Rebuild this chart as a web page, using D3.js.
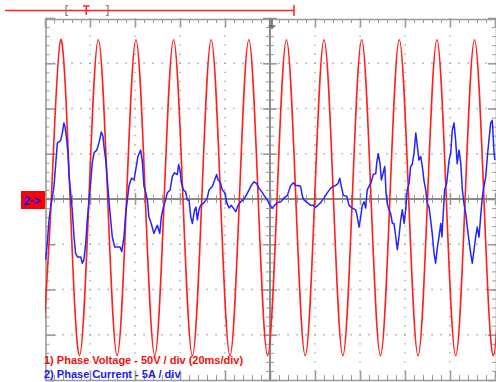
<!DOCTYPE html>
<html><head><meta charset="utf-8">
<script src="https://cdn.jsdelivr.net/npm/d3@7"></script>
<style>html,body{margin:0;padding:0;background:#fff;overflow:hidden}</style>
</head><body>
<svg id="c" width="496" height="382"></svg>
<script>
// ---- data (time in ms, voltage in V, current in A) ----
const voltT = [-1.38,
  2.80, 6.98, 11.16, 15.34,
  19.52, 23.70, 27.88, 32.06,
  36.24, 40.42, 44.60, 48.78,
  52.96, 57.14, 61.32, 65.50,
  69.68, 73.86, 78.04, 82.22,
  86.40, 90.58, 94.76, 98.94,
  103.12, 107.30, 111.48, 115.66,
  119.84, 124.02, 128.20, 132.38,
  136.56, 140.74, 144.92, 149.10,
  153.28, 157.46, 161.64, 165.82,
  170.00, 174.18, 178.36, 182.54,
  186.72, 190.90, 195.08, 199.26,
  203.44];
const voltV = [-173,
  0, 176, 0, -173,
  0, 176, 0, -173,
  0, 176, 0, -173,
  0, 176, 0, -173,
  0, 176, 0, -173,
  0, 176, 0, -173,
  0, 176, 0, -173,
  0, 176, 0, -173,
  0, 176, 0, -173,
  0, 176, 0, -173,
  0, 176, 0, -173,
  0, 176, 0, -173,
  0];
const curT = [0.3,1.0,1.8,2.5,3.2,4.0,4.8,5.5,6.2,7.0,7.7,8.4,8.9,9.5,10.2,10.7,11.4,12.1,12.9,13.6,14.4,15.9,16.6,17.3,18.1,18.8,19.6,20.3,21.0,21.8,23.0,24.0,25.0,25.8,26.2,27.0,27.7,28.4,29.2,29.9,31.0,32.1,33.3,34.1,35.1,35.9,36.6,37.3,38.4,39.6,40.3,41.3,42.5,43.2,44.0,44.8,45.5,46.2,47.2,48.4,49.9,51.0,51.7,52.6,53.6,54.4,55.6,56.6,57.6,58.8,59.4,60.0,60.6,61.5,62.5,63.2,64.0,64.8,65.5,66.5,67.1,67.7,68.4,69.2,70.7,72.1,72.9,74.4,75.4,76.3,76.9,77.8,78.8,79.9,80.8,81.8,82.8,83.7,84.8,85.8,87.0,88.1,89.2,90.7,91.7,92.9,94.1,95.1,96.6,97.6,98.8,100.0,101.0,102.1,103.2,104.8,106.2,107.7,109.2,110.4,111.4,112.4,113.6,114.4,115.1,116.6,118.1,119.2,120.3,121.3,122.5,124.0,125.5,127.0,128.1,129.2,130.2,131.0,131.7,132.6,134.1,135.1,136.6,138.1,138.8,139.6,140.3,141.0,141.8,142.5,143.2,144.0,145.0,145.9,147.0,147.4,148.1,148.9,149.5,150.2,151.0,151.6,152.1,152.9,153.6,154.4,155.1,155.9,156.6,157.3,158.1,158.8,159.6,160.3,161.0,161.8,162.5,163.2,164.0,164.8,165.5,166.2,167.0,167.7,168.4,169.2,169.9,170.7,171.4,172.1,172.9,173.6,174.4,175.1,175.9,176.4,177.0,177.6,178.5,179.6,180.3,181.0,181.8,182.5,183.2,184.0,184.8,185.5,186.2,187.0,187.7,188.4,189.2,189.9,190.7,191.4,192.1,192.9,193.6,194.4,195.1,195.9,196.6,197.3,198.1,198.8,199.6,200.0];
const curI = [-6.7,-4.9,-2.3,-0.9,0.1,1.4,4.0,6.2,6.3,6.5,7.3,8.4,8.0,6.9,5.1,2.5,0.7,-1.2,-4.2,-6.0,-6.4,-6.4,-7.1,-6.7,-4.9,-2.3,-0.1,1.8,4.0,5.1,5.4,6.2,7.4,6.9,5.8,4.3,2.1,-0.1,-2.3,-4.2,-5.3,-5.3,-5.3,-5.8,-4.2,-1.5,-0.1,1.4,2.3,2.1,3.2,4.7,5.4,4.3,1.4,0.7,-0.1,-2.0,-2.7,-3.8,-2.9,-3.8,-2.0,-0.9,-0.1,0.7,1.0,2.5,2.9,2.7,3.8,3.2,1.8,1.0,0.8,-0.1,-0.1,-2.0,-2.7,-1.2,-0.9,-2.3,-1.2,-0.7,-0.4,0.1,1.0,1.4,2.1,2.7,2.1,1.9,1.0,0.7,-0.4,-1.0,-0.7,-1.0,-1.4,-0.7,-0.3,-0.1,0.3,1.0,1.5,1.9,1.7,1.2,0.7,0.3,-0.1,-0.7,-1.0,-0.7,-0.4,-0.3,0.1,0.4,1.5,1.8,1.5,1.5,1.4,0.3,-0.1,-0.4,-0.7,-0.7,-0.9,-0.7,-0.4,0.1,0.7,1.2,1.4,1.5,1.7,2.3,1.4,0.4,0.3,-0.7,-1.0,-1.2,-2.0,-3.1,-2.0,-0.7,-0.3,-1.0,1.0,1.4,1.9,2.7,2.8,3.9,5.0,3.9,2.1,2.8,3.6,0.6,-0.5,-1.2,-1.6,-2.7,-2.7,-4.2,-5.6,-4.2,-2.3,-1.2,-2.7,-1.2,1.0,1.7,3.6,3.8,5.0,7.3,5.8,4.3,4.7,3.6,2.1,1.0,-0.5,-0.9,-2.3,-3.8,-6.0,-7.1,-5.3,-4.2,-2.7,-4.2,-1.6,1.0,1.7,4.3,5.0,7.6,8.4,6.5,3.9,5.4,3.9,1.0,-0.5,-1.6,-3.1,-4.5,-6.0,-7.1,-5.6,-4.2,-3.1,-4.2,-2.0,0.3,1.4,2.5,4.7,6.5,8.4,8.7,5.0,4.3];
const legendLines = ["1) Phase Voltage - 50V / div (20ms/div)", "2) Phase Current - 5A / div"];
const channelMarker = "2->";
const timeDomain = [0, 200];      // 10 div x 20 ms
const voltDomain = [-200, 200];   // 8 div x 50 V
const curDomain = [-20, 20];      // 8 div x 5 A
const minorMs = d3.range(0, 201, 4);
const majorMs = d3.range(0, 201, 20);
const minorV = d3.range(-200, 201, 10);
const majorV = d3.range(-200, 201, 50);

// ---- scales ----
const x = d3.scaleLinear().domain(timeDomain).range([45, 495]);
const yV = d3.scaleLinear().domain(voltDomain).range([380, 18]);
const yI = d3.scaleLinear().domain(curDomain).range([380, 18]);

const svg = d3.select("#c");
svg.append("rect").attr("width", 496).attr("height", 382).attr("fill", "#fff");

const grey = "#9a9a9a";
// dotted grid at divisions
const gGrid = svg.append("g");
gGrid.selectAll("line.vx").data(majorMs.filter(d => d > 0 && d < 200 && d !== 100)).join("line")
  .attr("x1", d => x(d)).attr("x2", d => x(d)).attr("y1", 18).attr("y2", 380)
  .attr("stroke", grey).attr("stroke-width", 1.3).attr("stroke-dasharray", "1.3,7.75").attr("stroke-dashoffset", 0.6);
gGrid.selectAll("line.hy").data(majorV.filter(d => d > -200 && d < 200 && d !== 0)).join("line")
  .attr("y1", d => yV(d)).attr("y2", d => yV(d)).attr("x1", 45).attr("x2", 495)
  .attr("stroke", grey).attr("stroke-width", 1.3).attr("stroke-dasharray", "1.3,7.7").attr("stroke-dashoffset", 0.6);

function styleAxis(g, w) {
  g.selectAll("path.domain").attr("stroke", grey).attr("stroke-width", 1.6);
  g.selectAll(".tick line").attr("stroke", grey).attr("stroke-width", w);
  g.selectAll("text").remove();
}
function addAxis(axisFn, scale, vals, size, transform, w, withDomain) {
  const a = axisFn(scale).tickValues(vals).tickSize(size).tickSizeOuter(0).tickFormat("");
  const g = svg.append("g").attr("transform", transform).call(a);
  styleAxis(g, w);
  if (!withDomain) g.select("path.domain").remove();
  return g;
}
// top ruler
addAxis(d3.axisBottom, x, minorMs, 4, "translate(0,19)", 1, true);
addAxis(d3.axisBottom, x, majorMs, 8, "translate(0,19)", 1.6, false);
// bottom
addAxis(d3.axisTop, x, minorMs, 5, "translate(0,380)", 1, true);
addAxis(d3.axisTop, x, majorMs, 9, "translate(0,380)", 1.6, false);
// left
addAxis(d3.axisRight, yV, minorV, 4, "translate(45.5,0)", 1, true);
addAxis(d3.axisRight, yV, majorV, 10, "translate(45.5,0)", 1.6, false);
// right
addAxis(d3.axisLeft, yV, minorV, 4, "translate(496,0)", 1, true);
addAxis(d3.axisLeft, yV, majorV, 8, "translate(496,0)", 1.6, false);
// centre horizontal axis
addAxis(d3.axisBottom, x, minorMs, 4, `translate(0,${yV(0)})`, 1, false);
addAxis(d3.axisTop, x, minorMs, 4, `translate(0,${yV(0)})`, 1, false);
addAxis(d3.axisBottom, x, majorMs, 6, `translate(0,${yV(0)})`, 1.6, false);
addAxis(d3.axisTop, x, majorMs, 6, `translate(0,${yV(0)})`, 1.6, false);
svg.append("line").attr("x1", 45).attr("x2", 495).attr("y1", yV(0)).attr("y2", yV(0))
  .attr("stroke", "#8a8a8a").attr("stroke-width", 2);
// centre vertical axis
addAxis(d3.axisRight, yV, minorV, 4, `translate(${x(100)},0)`, 1, false);
addAxis(d3.axisLeft, yV, minorV, 4, `translate(${x(100)},0)`, 1, false);
addAxis(d3.axisRight, yV, majorV, 7, `translate(${x(100)},0)`, 1.6, false);
addAxis(d3.axisLeft, yV, majorV, 7, `translate(${x(100)},0)`, 1.6, false);
svg.append("line").attr("x1", x(100)).attr("x2", x(100)).attr("y1", 18).attr("y2", 380)
  .attr("stroke", "#8a8a8a").attr("stroke-width", 2);

// trigger marker on top ruler
svg.append("path").attr("d", "M272,19V29M268.5,26H275.5").attr("stroke", "#666").attr("stroke-width", 1.5).attr("fill", "none");

// top record bar
svg.append("path").attr("d", "M5,10.5H294M294,5V16").attr("stroke", "#f22").attr("stroke-width", 1.5).attr("fill", "none");
svg.append("path").attr("d", "M68,5.5H66V15.5H68M106,5.5H108V15.5H106").attr("stroke", "#8a7676").attr("stroke-width", 1.2).attr("fill", "none");
svg.append("path").attr("d", "M83,6H89.5M86.3,6V15").attr("stroke", "#f22").attr("stroke-width", 1.5).attr("fill", "none");

// clip
svg.append("clipPath").attr("id", "clip").append("rect").attr("x", 45).attr("y", 18).attr("width", 451).attr("height", 362);

// voltage
const vData = voltT.map((t, i) => [t, voltV[i]]);
svg.append("path").datum(vData).attr("clip-path", "url(#clip)")
  .attr("d", d3.line().x(d => x(d[0])).y(d => yV(d[1])).curve(d3.curveNatural))
  .attr("fill", "none").attr("stroke", "#ff1f1f").attr("stroke-width", 1.6);

// current
const iData = curT.map((t, i) => [t, curI[i]]);
svg.append("path").datum(iData).attr("clip-path", "url(#clip)")
  .attr("d", d3.line().x(d => x(d[0])).y(d => yI(d[1])))
  .attr("fill", "none").attr("stroke", "#2424ff").attr("stroke-width", 1.5).attr("stroke-linejoin", "round");

// channel marker
svg.append("rect").attr("x", 21).attr("y", 191).attr("width", 24).attr("height", 18).attr("fill", "#ff0000");
svg.append("text").attr("x", 23.5).attr("y", 204.5).text(channelMarker)
  .attr("fill", "#0000ff").attr("font-family", "'Liberation Sans', Arial, sans-serif")
  .attr("font-weight", "bold").attr("font-size", 12).attr("letter-spacing", -0.3);

// legend
svg.selectAll("text.leg").data(legendLines).join("text")
  .attr("x", 44).attr("y", (d, i) => 363.5 + i * 14)
  .attr("fill", (d, i) => i === 0 ? "#ee1111" : "#1c1ce8")
  .attr("font-family", "'Liberation Sans', Arial, sans-serif").attr("font-weight", "bold").attr("font-size", 11)
  .text(d => d);
</script>
</body></html>
